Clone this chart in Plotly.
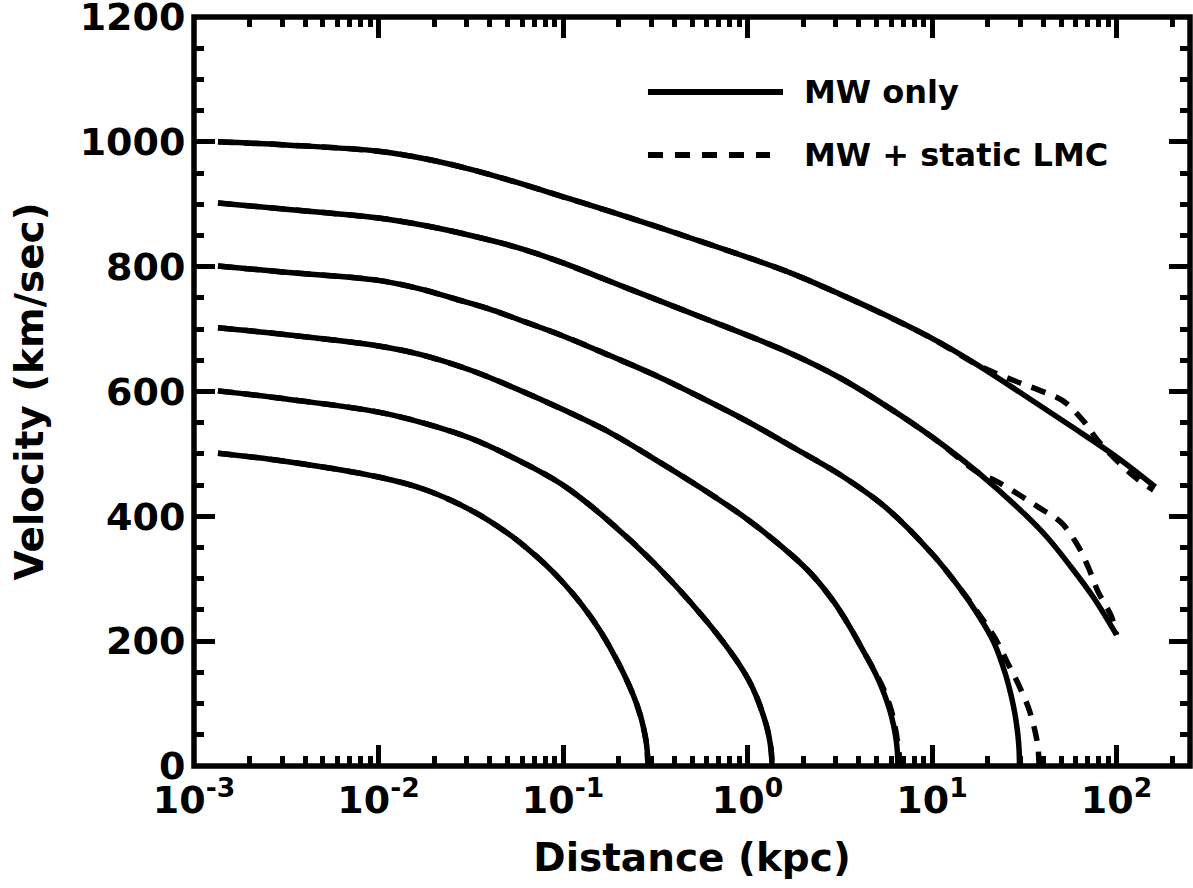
import math
import plotly.graph_objects as go

# Velocity vs. distance for six launch speeds.
# "MW only" (solid) and "MW + static LMC" (dashed).

dist_1000 = [0.001349, 0.003162, 0.01, 0.01778, 0.03162, 0.05623, 0.1, 0.1778, 0.3162, 0.5623,
             1.0, 1.778, 3.162, 5.623, 10.0, 17.78, 31.62, 56.23, 100.0, 162.2]
vel_1000 = [1000, 995, 985, 973, 956, 935, 912, 889, 865, 840,
            815, 788, 756, 722, 685, 642, 594, 545, 495, 447]
dist_1000_lmc = [0.001349, 0.003162, 0.01, 0.01778, 0.03162, 0.05623, 0.1, 0.1778, 0.3162, 0.5623,
                 1.0, 1.778, 3.162, 5.623, 10.0, 17.78, 27.54, 38.90, 51.29, 66.07, 79.43, 123.0, 158.5]
vel_1000_lmc = [1000, 995, 985, 973, 956, 935, 912, 889, 865, 840,
                815, 788, 756, 722, 685, 642, 618, 601, 585, 553, 521, 465, 442]

dist_900 = [0.001349, 0.003162, 0.01, 0.01778, 0.03162, 0.05623, 0.1, 0.1778, 0.3162, 0.5623,
            1.0, 1.778, 3.162, 5.623, 10.0, 17.78, 31.62, 42.17, 56.23, 74.99, 100.0]
vel_900 = [902, 892, 878, 866, 850, 831, 806, 777, 748, 719,
           690, 659, 622, 577, 527, 470, 404, 366, 320, 270, 210]
dist_900_lmc = [0.001349, 0.003162, 0.01, 0.01778, 0.03162, 0.05623, 0.1, 0.1778, 0.3162, 0.5623,
                1.0, 1.778, 3.162, 5.623, 10.0, 17.78, 22.39, 30.20, 38.02, 50.12,
                61.66, 70.79, 79.43, 93.33, 100.0]
vel_900_lmc = [902, 892, 878, 866, 850, 831, 806, 777, 748, 719,
               690, 659, 622, 577, 527, 470, 456, 433, 414, 390,
               353, 316, 279, 241, 210]

dist_800 = [0.001349, 0.003162, 0.01, 0.01698, 0.02692, 0.03890, 0.06166, 0.1, 0.1778, 0.3162,
            0.5623, 1.0, 1.778, 3.162, 5.623, 10.0, 14.13, 17.78, 21.63, 25.12,
            26.92, 28.18, 28.97, 29.38, 29.65, 29.79]
vel_800 = [801, 791, 778, 764, 747, 733, 712, 689, 658, 626,
           590, 552, 510, 467, 414, 340, 285, 242, 198, 145,
           111, 82, 58, 41, 24, 0]
dist_800_lmc = [0.001349, 0.003162, 0.01, 0.01698, 0.02692, 0.03890, 0.06166, 0.1, 0.1778, 0.3162,
                0.5623, 1.0, 1.778, 3.162, 5.623, 10.0, 14.13, 17.78, 22.13, 25.59,
                29.58, 33.50, 36.39, 37.33, 37.76, 38.02]
vel_800_lmc = [801, 791, 778, 764, 747, 733, 712, 689, 658, 626,
               590, 552, 510, 467, 414, 340, 285, 245, 203, 166,
               129, 91, 52, 34, 20, 0]

dist_700 = [0.001349, 0.003162, 0.01, 0.01698, 0.03162, 0.05623, 0.1, 0.1778, 0.3162, 0.5623,
            1.0, 1.778, 2.291, 2.951, 3.548, 4.266, 5.012, 5.495, 5.888, 6.166,
            6.310, 6.412, 6.486, 6.531]
vel_700 = [702, 691, 673, 659, 634, 604, 571, 535, 491, 445,
           395, 335, 303, 262, 225, 183, 144, 116, 90, 67,
           52, 38, 23, 0]
dist_700_lmc = [0.001349, 0.003162, 0.01, 0.01698, 0.03162, 0.05623, 0.1, 0.1778, 0.3162, 0.5623,
                1.0, 1.778, 2.291, 2.951, 3.548, 4.266, 5.012, 5.559, 6.026, 6.310,
                6.531, 6.653, 6.699]
vel_700_lmc = [702, 691, 673, 659, 634, 604, 571, 535, 491, 445,
               395, 335, 303, 262, 225, 183, 146, 118, 88, 62,
               35, 15, 0]

dist_600 = [0.001349, 0.003162, 0.01, 0.01778, 0.03162, 0.05623, 0.1, 0.1778, 0.3162, 0.5623,
            0.7943, 1.0, 1.122, 1.230, 1.288, 1.318, 1.340, 1.352, 1.355]
vel_600 = [601, 588, 567, 549, 525, 491, 450, 392, 323, 242,
           186, 141, 110, 77, 56, 41, 27, 13, 0]
dist_600_lmc = list(dist_600)
vel_600_lmc = list(vel_600)

dist_500 = [0.001349, 0.003162, 0.01, 0.01778, 0.03162, 0.05012, 0.06310, 0.07943, 0.1, 0.1259,
            0.1585, 0.1995, 0.2399, 0.2630, 0.2754, 0.2818, 0.2858, 0.2884]
vel_500 = [501, 488, 463, 443, 410, 373, 350, 324, 294, 259,
           217, 165, 114, 80, 56, 40, 25, 0]
dist_500_lmc = list(dist_500)
vel_500_lmc = list(vel_500)

legend_labels = ["MW only", "MW + static LMC"]

x_tick_vals = [1e-3, 1e-2, 1e-1, 1e0, 1e1, 1e2]
x_tick_text = ["10<sup>-3</sup>", "10<sup>-2</sup>", "10<sup>-1</sup>",
               "10<sup>0</sup>", "10<sup>1</sup>", "10<sup>2</sup>"]
y_tick_vals = [0, 200, 400, 600, 800, 1000, 1200]
x_max = 250

solid = [(dist_1000, vel_1000), (dist_900, vel_900), (dist_800, vel_800),
         (dist_700, vel_700), (dist_600, vel_600), (dist_500, vel_500)]
dashed = [(dist_1000_lmc, vel_1000_lmc), (dist_900_lmc, vel_900_lmc),
          (dist_800_lmc, vel_800_lmc), (dist_700_lmc, vel_700_lmc),
          (dist_600_lmc, vel_600_lmc), (dist_500_lmc, vel_500_lmc)]

LINE_W = 5.5
DASH = "15px,11px"
FONT = "DejaVu Sans"

fig = go.Figure()
for xs, ys in solid:
    fig.add_trace(go.Scatter(x=xs, y=ys, mode="lines", showlegend=False, hoverinfo="skip",
                             line=dict(color="black", width=LINE_W, shape="spline", smoothing=1.0)))
for xs, ys in dashed:
    fig.add_trace(go.Scatter(x=xs, y=ys, mode="lines", showlegend=False, hoverinfo="skip",
                             line=dict(color="black", width=LINE_W, dash=DASH,
                                       shape="spline", smoothing=1.0)))

minor_x = [m * 10.0 ** e for e in range(-3, 3) for m in range(2, 10) if m * 10.0 ** e <= x_max]

axis_common = dict(
    showline=True, linewidth=1, linecolor="black", mirror="allticks",
    ticks="inside", ticklen=21, tickwidth=5, tickcolor="black",
    showgrid=False, zeroline=False, automargin=False, ticklabeloverflow="allow",
    tickfont=dict(family=FONT, size=38, color="black", weight="bold"),
)

fig.update_layout(
    width=1193, height=888,
    margin=dict(l=194, r=3, t=17, b=122),
    paper_bgcolor="white", plot_bgcolor="white",
    xaxis=dict(
        type="log", range=[-3, math.log10(x_max)],
        tickmode="array", tickvals=x_tick_vals, ticktext=x_tick_text,
        minor=dict(tickvals=minor_x, ticks="inside", ticklen=10, tickwidth=4.5,
                   tickcolor="black", showgrid=False),
        title=dict(text="Distance (kpc)", standoff=23,
                   font=dict(family=FONT, size=39, color="black", weight="bold")),
        **axis_common,
    ),
    yaxis=dict(
        range=[-0.01, 1200.01], tickmode="array", tickvals=y_tick_vals,
        minor=dict(dtick=50, ticks="inside", ticklen=10, tickwidth=4.5,
                   tickcolor="black", showgrid=False),
        title=dict(text="Velocity (km/sec)", standoff=23,
                   font=dict(family=FONT, size=39, color="black", weight="bold")),
        **axis_common,
    ),
)

# Heavy frame around the plotting area
fig.add_shape(type="rect", xref="paper", yref="paper", x0=0, x1=1, y0=0, y1=1,
              line=dict(color="black", width=5.5), layer="above")

# Legend drawn as line samples with text labels in the upper right
leg_x0, leg_x1_solid, leg_x1_dash, leg_text_x = 0.4558, 0.5914, 0.5783, 0.6104
leg_rows = [0.8999, 0.8158]
fig.add_shape(type="line", xref="paper", yref="paper", x0=leg_x0, x1=leg_x1_solid,
              y0=leg_rows[0], y1=leg_rows[0], line=dict(color="black", width=6))
fig.add_shape(type="line", xref="paper", yref="paper", x0=leg_x0, x1=leg_x1_dash,
              y0=leg_rows[1], y1=leg_rows[1], line=dict(color="black", width=6, dash="15px,12px"))
for label, yy in zip(legend_labels, leg_rows):
    fig.add_annotation(text=label, xref="paper", yref="paper", x=leg_text_x, y=yy,
                       xanchor="left", yanchor="middle", showarrow=False,
                       font=dict(family=FONT, size=32, color="black", weight="bold"))

fig.write_html("out.html")
